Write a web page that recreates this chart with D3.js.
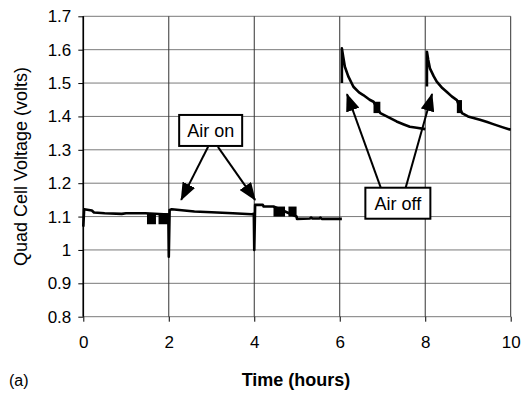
<!DOCTYPE html>
<html>
<head>
<meta charset="utf-8">
<script src="https://cdn.jsdelivr.net/npm/d3@7"></script>
<style>
  body { margin: 0; background: #fff; }
  svg { display: block; font-family: 'Liberation Sans', Arial, sans-serif; }
  .grid-h { stroke: #7a7a7a; stroke-width: 1; }
  .grid-v { stroke: #333; stroke-width: 1; }
  .trace { fill: none; stroke: #000; stroke-width: 2.6; stroke-linejoin: round; }
  .band { fill: #000; }
  .tick text { font-size: 17px; fill: #000; }
  .tick line { stroke: #000; }
  .axis path { display: none; }
  .note-box { fill: #fff; stroke: #000; stroke-width: 2; }
  .note-arrow { stroke: #000; stroke-width: 2; }
</style>
</head>
<body>
<svg class="canvas" width="527" height="393"></svg>
<script>
'use strict';

// Axis ticks
const xTicks = [0, 2, 4, 6, 8, 10],
  xTickLabels = ['0', '2', '4', '6', '8', '10'],
  yTicks = [0.8, 0.9, 1.0, 1.1, 1.2, 1.3, 1.4, 1.5, 1.6, 1.7],
  yTickLabels = ['0.8', '0.9', '1', '1.1', '1.2', '1.3', '1.4', '1.5', '1.6', '1.7'];

// Voltage traces, [hours, volts]. Air on for 0-6 h, air off after.
const airOnTrace = [
  [0, 1.07], [0.02, 1.122], [0.2, 1.118], [0.25, 1.112], [0.5, 1.11],
  [0.9, 1.108], [1.0, 1.11], [1.45, 1.11], [1.99, 1.106], [2.0, 0.98],
  [2.02, 1.12], [2.07, 1.122], [2.6, 1.115], [3.0, 1.113], [3.5, 1.11],
  [3.94, 1.107], [3.99, 1.108], [4.0, 1.0], [4.02, 1.135], [4.2, 1.135],
  [4.22, 1.13], [4.45, 1.13], [4.99, 1.1], [5.0, 1.093], [5.3, 1.094],
  [5.33, 1.097], [5.36, 1.094], [5.52, 1.094], [5.55, 1.097], [5.58, 1.093],
  [6.05, 1.093],
];
const airOffTrace1 = [
  [6.05, 1.5], [6.05, 1.604], [6.08, 1.58], [6.12, 1.549], [6.2, 1.52],
  [6.32, 1.489], [6.45, 1.472], [6.55, 1.464], [6.7, 1.45], [6.79, 1.444],
  [6.95, 1.41], [7.1, 1.4], [7.33, 1.385], [7.5, 1.376], [7.64, 1.369],
  [7.8, 1.366], [8.0, 1.362],
];
const airOffTrace2 = [
  [8.04, 1.49], [8.04, 1.594], [8.07, 1.57], [8.11, 1.544], [8.2, 1.52],
  [8.27, 1.504], [8.4, 1.485], [8.5, 1.474], [8.62, 1.46], [8.74, 1.449],
  [8.86, 1.41], [9.0, 1.4], [9.28, 1.39], [9.45, 1.383], [9.59, 1.377],
  [9.8, 1.368], [10.0, 1.36],
];
// Noisy stretches drawn as min/max bands: [t0, t1, vLow, vHigh]
const noiseBands = [
  [1.49, 1.7, 1.077, 1.11], [1.76, 2.0, 1.077, 1.11],
  [4.45, 4.72, 1.1, 1.13], [4.8, 4.99, 1.1, 1.13],
  [6.79, 6.95, 1.41, 1.444], [8.74, 8.86, 1.41, 1.449],
];

// Callouts: box centre and arrow tips in data units
const notes = [
  { text: 'Air on', at: [2.98, 1.358], w: 63, h: 31,
    arrows: [[[2.92, 1.309], [2.29, 1.15]], [[3.15, 1.309], [4.02, 1.15]]] },
  { text: 'Air off', at: [7.36, 1.14], w: 65, h: 31,
    arrows: [[[7.13, 1.126], [6.17, 1.467]], [[7.41, 1.126], [8.16, 1.467]]] },
];

const svg = d3.select('.canvas'),
  x = d3.scaleLinear([0, 10], [83.3, 510.7]),
  y = d3.scaleLinear([0.8, 1.7], [316.7, 16.3]),
  line = d3.line(d => x(d[0]), d => y(d[1]));

// Grid
svg.append('g')
  .selectAll('line')
  .data(yTicks)
  .join('line')
  .attr('class', 'grid-h')
  .attr('x1', x(0)).attr('x2', x(10))
  .attr('y1', d => y(d)).attr('y2', d => y(d));
svg.append('g')
  .selectAll('line')
  .data(xTicks)
  .join('line')
  .attr('class', 'grid-v')
  .attr('x1', d => x(d)).attr('x2', d => x(d))
  .attr('y1', y(1.7)).attr('y2', y(0.8));
svg.append('line')
  .attr('x1', x(0)).attr('x2', x(0))
  .attr('y1', y(1.7)).attr('y2', y(0.8))
  .attr('stroke', '#000').attr('stroke-width', 1.6);

// Axes
svg.append('g')
  .attr('class', 'axis')
  .attr('transform', `translate(${x(0)},0)`)
  .call(d3.axisLeft(y).tickValues(yTicks).tickSize(5).tickPadding(7)
    .tickFormat((d, i) => yTickLabels[i]));
svg.append('g')
  .attr('class', 'axis')
  .attr('transform', `translate(0,${y(0.8)})`)
  .call(d3.axisBottom(x).tickValues(xTicks).tickSize(5).tickPadding(14)
    .tickFormat((d, i) => xTickLabels[i]));

// Data
svg.append('g')
  .selectAll('rect')
  .data(noiseBands)
  .join('rect')
  .attr('class', 'band')
  .attr('x', d => x(d[0]))
  .attr('width', d => x(d[1]) - x(d[0]))
  .attr('y', d => y(d[3]))
  .attr('height', d => y(d[2]) - y(d[3]));
svg.append('g')
  .selectAll('path')
  .data([airOnTrace, airOffTrace1, airOffTrace2])
  .join('path')
  .attr('class', 'trace')
  .attr('d', line);

// Callouts
svg.append('defs')
  .append('marker')
  .attr('id', 'head')
  .attr('markerUnits', 'userSpaceOnUse')
  .attr('viewBox', '0 -7 18 14')
  .attr('markerWidth', 18).attr('markerHeight', 14)
  .attr('refX', 17).attr('refY', 0)
  .attr('orient', 'auto')
  .append('path')
  .attr('d', 'M0,-7L18,0L0,7Z');

notes.forEach(n => {
  const g = svg.append('g');
  g.selectAll('line')
    .data(n.arrows)
    .join('line')
    .attr('class', 'note-arrow')
    .attr('x1', d => x(d[0][0])).attr('y1', d => y(d[0][1]))
    .attr('x2', d => x(d[1][0])).attr('y2', d => y(d[1][1]))
    .attr('marker-end', 'url(#head)');
  g.append('rect')
    .attr('class', 'note-box')
    .attr('x', x(n.at[0]) - n.w / 2).attr('y', y(n.at[1]) - n.h / 2)
    .attr('width', n.w).attr('height', n.h);
  g.append('text')
    .attr('x', x(n.at[0])).attr('y', y(n.at[1]) + 6.5)
    .attr('text-anchor', 'middle')
    .attr('font-size', 18)
    .text(n.text);
});

// Titles
svg.append('text')
  .attr('transform', `translate(27,${(y(0.8) + y(1.7)) / 2}) rotate(-90)`)
  .attr('text-anchor', 'middle')
  .attr('font-size', 18)
  .text('Quad Cell Voltage (volts)');
svg.append('text')
  .attr('x', 296).attr('y', 386)
  .attr('text-anchor', 'middle')
  .attr('font-size', 18)
  .attr('font-weight', 'bold')
  .text('Time (hours)');
svg.append('text')
  .attr('x', 9).attr('y', 386)
  .attr('font-size', 16)
  .text('(a)');
</script>
</body>
</html>
